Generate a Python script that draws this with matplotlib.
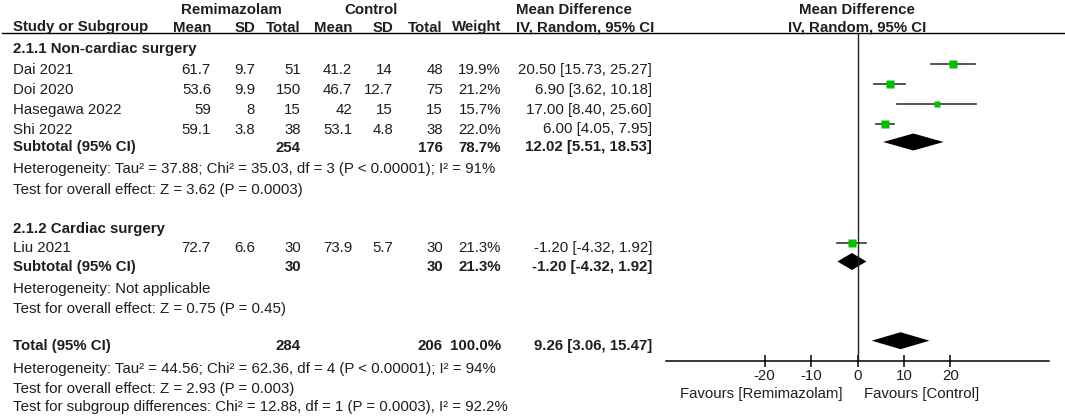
import matplotlib
matplotlib.use("Agg")
import matplotlib.pyplot as plt
from matplotlib.patches import Polygon

plt.rcParams['font.family'] = ['Liberation Sans', 'DejaVu Sans']
plt.rcParams['axes.unicode_minus'] = False

# studies
studies = ["Dai 2021", "Doi 2020", "Hasegawa 2022", "Shi 2022", "Liu 2021"]
rem_mean = [61.7, 53.6, 59, 59.1, 72.7]
rem_sd = [9.7, 9.9, 8, 3.8, 6.6]
rem_n = [51, 150, 15, 38, 30]
ctl_mean = [41.2, 46.7, 42, 53.1, 73.9]
ctl_sd = [14, 12.7, 15, 4.8, 5.7]
ctl_n = [48, 75, 15, 38, 30]
weight = [19.9, 21.2, 15.7, 22.0, 21.3]
md = [20.50, 6.90, 17.00, 6.00, -1.20]
md_lo = [15.73, 3.62, 8.40, 4.05, -4.32]
md_hi = [25.27, 10.18, 25.60, 7.95, 1.92]

# subgroups
groups = ["2.1.1 Non-cardiac surgery", "2.1.2 Cardiac surgery"]
sub_rem_n = [254, 30]
sub_ctl_n = [176, 30]
sub_weight = [78.7, 21.3]
sub_md = [12.02, -1.20]
sub_lo = [5.51, -4.32]
sub_hi = [18.53, 1.92]
sub_het = ["Heterogeneity: Tau² = 37.88; Chi² = 35.03, df = 3 (P < 0.00001); I² = 91%",
           "Heterogeneity: Not applicable"]
sub_eff = ["Test for overall effect: Z = 3.62 (P = 0.0003)",
           "Test for overall effect: Z = 0.75 (P = 0.45)"]

# overall
tot_rem_n, tot_ctl_n, tot_weight = 284, 206, 100.0
tot_md, tot_lo, tot_hi = 9.26, 3.06, 15.47
tot_notes = ["Heterogeneity: Tau² = 44.56; Chi² = 62.36, df = 4 (P < 0.00001); I² = 94%",
             "Test for overall effect: Z = 2.93 (P = 0.003)",
             "Test for subgroup differences: Chi² = 12.88, df = 1 (P = 0.0003), I² = 92.2%"]

# layout (pixel rows from top)
study_y = [64.3, 84.3, 104.2, 124.0, 242.5]
group_y = [43.5, 223.5]
sub_y = [142.0, 261.5]
het_y = [163.0, 283.5]
eff_y = [184.5, 304.0]
tot_y = 340.7
notes_y = [363.5, 383.0, 401.5]
base = 9.5  # text baseline below mark centre

col_x = [211, 255, 301, 352, 393, 443, 501]
ci_x = 652
txt = '#1e1e1e'
fs = 10.8

fig = plt.figure(figsize=(10.65, 4.16), dpi=100)
tab = fig.add_axes([0, 0, 1, 1])
tab.set_xlim(0, 1065)
tab.set_ylim(416, 0)
tab.axis('off')


def put(x, y, s, ha='left', bold=False):
    tab.text(x, y, s, ha=ha, va='baseline', fontsize=fs, color=txt,
             fontweight='bold' if bold else 'normal')


# headers
put(231, 13.5, "Remimazolam", 'center', True)
put(371, 13.5, "Control", 'center', True)
put(516, 13.5, "Mean Difference", 'left', True)
put(857, 13.5, "Mean Difference", 'center', True)
put(13, 31.5, "Study or Subgroup", 'left', True)
for x, s in zip(col_x, ["Mean", "SD", "Total", "Mean", "SD", "Total", "Weight"]):
    put(x, 31.5, s, 'right', True)
put(516, 31.5, "IV, Random, 95% CI", 'left', True)
put(857, 31.5, "IV, Random, 95% CI", 'center', True)
tab.plot([2, 1065], [33, 33], color='black', lw=1.0)

fmt = lambda v: f"{v:g}"
for i, name in enumerate(studies):
    y = study_y[i] + base
    put(13, y, name)
    vals = [fmt(rem_mean[i]), fmt(rem_sd[i]), str(rem_n[i]), fmt(ctl_mean[i]),
            fmt(ctl_sd[i]), str(ctl_n[i]), f"{weight[i]:.1f}%"]
    for x, s in zip(col_x, vals):
        put(x, y, s, 'right')
    put(ci_x, y, f"{md[i]:.2f} [{md_lo[i]:.2f}, {md_hi[i]:.2f}]", 'right')

for g, gname in enumerate(groups):
    put(13, group_y[g] + base, gname, bold=True)
    y = sub_y[g] + base
    put(13, y, "Subtotal (95% CI)", bold=True)
    put(col_x[2], y, str(sub_rem_n[g]), 'right', True)
    put(col_x[5], y, str(sub_ctl_n[g]), 'right', True)
    put(col_x[6], y, f"{sub_weight[g]:.1f}%", 'right', True)
    put(ci_x, y, f"{sub_md[g]:.2f} [{sub_lo[g]:.2f}, {sub_hi[g]:.2f}]", 'right', True)
    put(13, het_y[g] + base, sub_het[g])
    put(13, eff_y[g] + base, sub_eff[g])

y = tot_y + base
put(13, y, "Total (95% CI)", bold=True)
put(col_x[2], y, str(tot_rem_n), 'right', True)
put(col_x[5], y, str(tot_ctl_n), 'right', True)
put(col_x[6], y, f"{tot_weight:.1f}%", 'right', True)
put(ci_x, y, f"{tot_md:.2f} [{tot_lo:.2f}, {tot_hi:.2f}]", 'right', True)
for ny, s in zip(notes_y, tot_notes):
    put(13, ny + base, s)

put(843, 398, "Favours [Remimazolam]", 'right')
put(864, 398, "Favours [Control]", 'left')

# forest panel
top, bottom, left, right = 33, 360.7, 666, 1049
ax = fig.add_axes([left / 1065, (416 - bottom) / 416, (right - left) / 1065, (bottom - top) / 416])
ax.set_xlim(-41.2, 41.2)
ax.set_ylim(bottom, top)
ax.patch.set_alpha(0)
for sp in ['top', 'left', 'right']:
    ax.spines[sp].set_visible(False)
ax.spines['bottom'].set_linewidth(1.1)
ax.set_yticks([])
ax.set_xticks([-20, -10, 0, 10, 20])
ax.tick_params(axis='x', direction='inout', length=8, width=1.1, labelsize=fs,
               pad=2, labelcolor=txt)
ax.axvline(0, color='#222222', lw=1.0)

for i in range(len(studies)):
    ax.plot([md_lo[i], md_hi[i]], [study_y[i]] * 2, color='#333333', lw=1.2)
    ax.plot(md[i], study_y[i], 's', color='#00c000', ms=weight[i] * 0.28, mec='none')


def diamond(c, lo, hi, y, h=8.5):
    ax.add_patch(Polygon([(lo, y), (c, y - h), (hi, y), (c, y + h)],
                         closed=True, color='black', lw=0))


for g in range(len(groups)):
    diamond(sub_md[g], sub_lo[g], sub_hi[g], sub_y[g])
diamond(tot_md, tot_lo, tot_hi, tot_y)

fig.savefig("out.png", dpi=100)
